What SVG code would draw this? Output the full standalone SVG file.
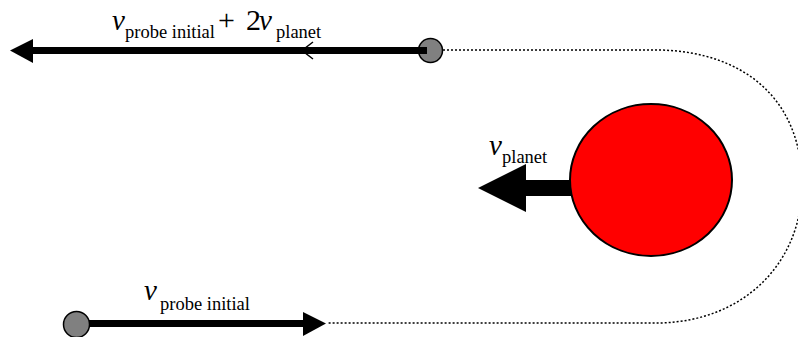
<svg xmlns="http://www.w3.org/2000/svg" width="798" height="337" viewBox="0 0 798 337">
<style>
text{font-family:"Liberation Serif","Times New Roman",serif;fill:#000}
.v{font-style:italic;font-size:29px}
.op{font-style:normal;font-size:30px}
.sub{font-style:normal;font-size:18.5px}
.shaft{stroke:#000;stroke-width:7;fill:none}
.head{fill:#000;stroke:none}
.probe{fill:#808080;stroke:#000;stroke-width:1.5}
.orbit{fill:none;stroke:#000;stroke-width:1.5;stroke-dasharray:2 2}
</style>
<g id="connectors">
<path class="orbit" d="M443,50 H660 C745,52 802,100 802,185 C802,262 745,321 660,323 H327"/>
<polyline points="313,42 302,50.5 313,59" fill="none" stroke="#000" stroke-width="1.5"/>
</g>
<g id="probe-end">
<circle class="probe" cx="430.5" cy="50.5" r="12"/>
</g>
<g id="probe-start">
<circle class="probe" cx="76.5" cy="324.5" r="13"/>
</g>
<g id="arrow-final">
<line class="shaft" x1="427" y1="50.5" x2="30" y2="50.5"/>
<polygon class="head" points="10,50.5 33,39 33,63"/>
</g>
<g id="arrow-initial">
<line class="shaft" x1="89" y1="323.5" x2="306" y2="323.5"/>
<polygon class="head" points="326,323.5 303,312 303,336"/>
</g>
<g id="arrow-planet">
<rect x="524" y="180" width="50" height="16" fill="#000"/>
<polygon class="head" points="478,188 526,164 526,212"/>
</g>
<g id="planet">
<ellipse cx="651" cy="180" rx="81" ry="76" fill="#ff0000" stroke="#000" stroke-width="2"/>
</g>
<g id="labels">
<text><tspan class="v" x="112" y="30">v</tspan><tspan class="sub" x="125" y="38">probe initial</tspan><tspan class="op" x="218" y="30">+</tspan><tspan class="op" x="246" y="30">2</tspan><tspan class="v" x="259" y="30">v</tspan><tspan class="sub" x="276" y="38">planet</tspan></text>
<text><tspan class="v" x="489" y="155">v</tspan><tspan class="sub" x="502" y="163">planet</tspan></text>
<text><tspan class="v" x="144" y="300">v</tspan><tspan class="sub" x="160" y="310">probe initial</tspan></text>
</g>
</svg>
